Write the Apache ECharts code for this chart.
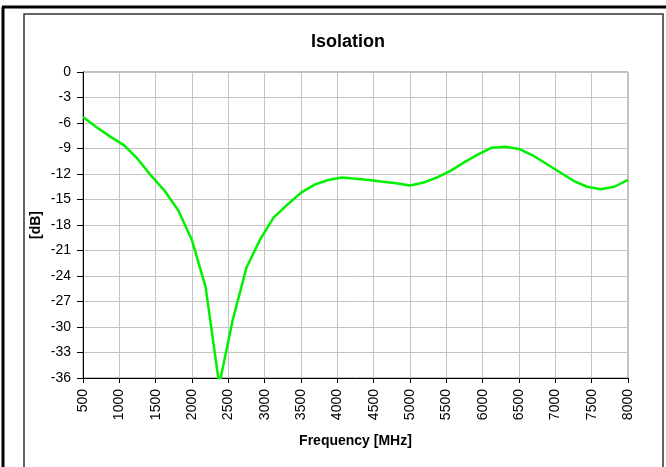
<!DOCTYPE html>
<html>
<head>
<meta charset="utf-8">
<script src="https://cdn.jsdelivr.net/npm/echarts@6/dist/echarts.min.js"></script>
<style>
  html, body { margin: 0; padding: 0; background: #fff; }
  #chart { width: 666px; height: 467px; }
</style>
</head>
<body>
<div id="chart"></div>
<script>
// frequency points [MHz] and isolation [dB]
const freqs = [500, 687.5, 875, 1062.5, 1250, 1437.5, 1625, 1812.5, 2000, 2187.5,
  2375, 2562.5, 2750, 2937.5, 3125, 3312.5, 3500, 3687.5, 3875, 4062.5,
  4250, 4437.5, 4625, 4812.5, 5000, 5187.5, 5375, 5562.5, 5750, 5937.5,
  6125, 6312.5, 6500, 6687.5, 6875, 7062.5, 7250, 7437.5, 7625, 7812.5, 8000]
const isolation = [-5.3, -6.5, -7.6, -8.6, -10.2, -12.2, -14.0, -16.3, -19.8, -25.3,
  -36.8, -29.1, -23.0, -19.7, -17.1, -15.6, -14.2, -13.25, -12.7, -12.4,
  -12.55, -12.7, -12.9, -13.1, -13.35, -13.0, -12.4, -11.6, -10.6, -9.7,
  -8.9, -8.8, -9.05, -9.8, -10.8, -11.8, -12.8, -13.5, -13.8, -13.5, -12.7]
const xTicks = { min: 500, max: 8000, step: 500 }
const yTicks = { min: -36, max: 0, step: 3 }

const font = '"Liberation Sans", Arial, sans-serif'

const option = {
  animation: false,
  textStyle: { fontFamily: font },
  title: {
    text: 'Isolation',
    left: 343,
    top: 28,
    textAlign: 'center',
    textStyle: { fontSize: 18, fontWeight: 'bold', color: '#000', fontFamily: font },
  },
  grid: { left: 83, right: 38, top: 72, bottom: 89, show: true, borderColor: '#808080', borderWidth: 1 },
  xAxis: {
    type: 'value',
    min: xTicks.min,
    max: xTicks.max,
    interval: xTicks.step,
    name: 'Frequency [MHz]',
    nameLocation: 'middle',
    nameGap: 56,
    nameMoveOverlap: false,
    nameTextStyle: { fontSize: 14, fontWeight: 'bold', color: '#000' },
    axisLine: { onZero: false, lineStyle: { color: '#000', width: 1 } },
    axisTick: { length: 5, lineStyle: { color: '#000' } },
    axisLabel: { rotate: 90, fontSize: 14, color: '#000', margin: 11, formatter: (v) => String(v) },
    splitLine: { lineStyle: { color: '#c4c4c4', width: 1 } },
  },
  yAxis: {
    type: 'value',
    min: yTicks.min,
    max: yTicks.max,
    interval: yTicks.step,
    name: '[dB]',
    nameLocation: 'middle',
    nameGap: 40,
    nameMoveOverlap: false,
    nameTextStyle: { fontSize: 14, fontWeight: 'bold', color: '#000' },
    axisLine: { show: true, lineStyle: { color: '#000', width: 1 } },
    axisTick: { show: true, length: 6, lineStyle: { color: '#000' } },
    axisLabel: { fontSize: 14, color: '#000', margin: 12 },
    splitLine: { lineStyle: { color: '#c4c4c4', width: 1 } },
  },
  series: [
    {
      type: 'line',
      data: freqs.map((f, i) => [f, isolation[i]]),
      showSymbol: false,
      clip: true,
      lineStyle: { color: '#00f000', width: 2.5 },
    },
  ],
  graphic: [
    // outer frame
    { type: 'line', shape: { x1: 3, y1: 7, x2: 3, y2: 467 }, style: { stroke: '#000', lineWidth: 3 } },
    { type: 'line', shape: { x1: 2, y1: 7, x2: 666, y2: 7 }, style: { stroke: '#000', lineWidth: 3 } },
    // chart area border
    { type: 'rect', shape: { x: 24, y: 14, width: 639, height: 470 }, style: { fill: null, stroke: '#333', lineWidth: 1.5 } },
  ],
}

const c = echarts.init(document.getElementById('chart'))
c.setOption(option)
</script>
</body>
</html>
